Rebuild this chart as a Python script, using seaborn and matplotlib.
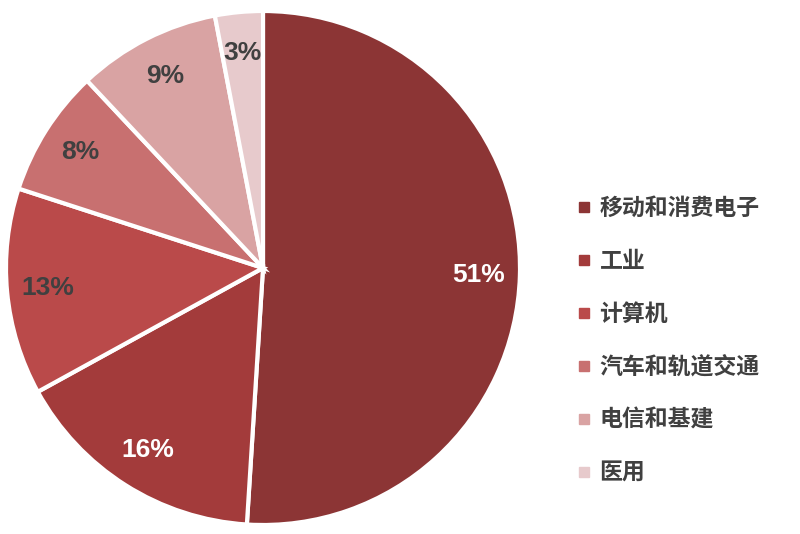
import matplotlib
matplotlib.use("Agg")
import matplotlib.pyplot as plt
from matplotlib.lines import Line2D
import seaborn as sns

categories = ["移动和消费电子", "工业", "计算机", "汽车和轨道交通", "电信和基建", "医用"]
shares = [51, 16, 13, 8, 9, 3]
colors = ["#8C3535", "#A33B3B", "#BA4A4A", "#C87070", "#D9A3A3", "#E7CACC"]
label_colors = ["white", "white", "#404040", "#404040", "#404040", "#404040"]

sns.set_theme(style="white")
plt.rcParams['font.family'] = ['Liberation Sans', 'Noto Sans CJK SC', 'DejaVu Sans']

fig = plt.figure(figsize=(8, 5.34), dpi=100)
ax = fig.add_axes([(263 - 257)/800, (534 - 268 - 257)/534, 514/800, 514/534])

wedges, texts, autotexts = ax.pie(
    shares, colors=colors, startangle=90, counterclock=False,
    autopct="%d%%", pctdistance=0.84,
    wedgeprops=dict(edgecolor="white", linewidth=3),
)
for t, c in zip(autotexts, label_colors):
    t.set_color(c)
    t.set_fontsize(19)
    t.set_fontweight("bold")
ax.set_xlim(-1.0, 1.0)
ax.set_ylim(-1.0, 1.0)
ax.set_aspect("equal")

handles = [Line2D([0], [0], marker="s", linestyle="none", markersize=7,
                  markerfacecolor=c, markeredgecolor=c) for c in colors]
leg = fig.legend(handles, categories, loc="center left",
                 bbox_to_anchor=(556/800, (534 - 341)/534),
                 frameon=False, handlelength=0.6, handletextpad=0.4,
                 labelspacing=1.31,
                 prop={"family": ["Noto Sans CJK SC", "DejaVu Sans"], "size": 16.5, "weight": "bold"})
for t in leg.get_texts():
    t.set_color("#404040")

fig.savefig("out.png", dpi=100, facecolor="white")
